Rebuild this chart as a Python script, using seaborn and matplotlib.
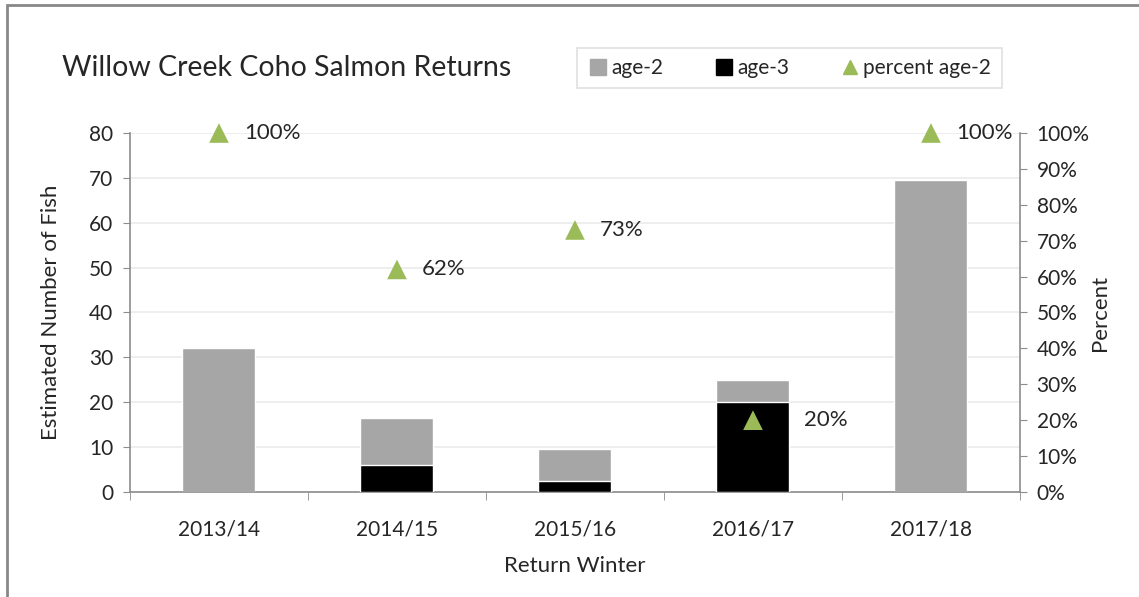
import numpy as np
import pandas as pd
import matplotlib
matplotlib.use('Agg')
import matplotlib.pyplot as plt
import seaborn as sns
from matplotlib.patches import Rectangle
from matplotlib.lines import Line2D
from matplotlib.ticker import FixedLocator, PercentFormatter

# Data
winters = ['2013/14', '2014/15', '2015/16', '2016/17', '2017/18']
age2 = [32, 10.5, 7, 5, 69.5]
age3 = [0, 6, 2.5, 20, 0]
pct_age2 = [100, 62, 73, 20, 100]

gray = '#A6A6A6'
green = '#9BBB59'
axis_gray = '#8C8C8C'

df = pd.DataFrame({'winter': winters, 'age2': age2, 'age3': age3, 'pct': pct_age2})
df['total'] = df['age2'] + df['age3']

sns.set_style('white')
plt.rcParams['font.family'] = ['Lato', 'DejaVu Sans']

fig = plt.figure(figsize=(11.39, 5.97), dpi=100)
ax = fig.add_axes([0.1141, 0.1759, 0.7814, 0.6013])

# Stacked bars: total in gray, age-3 in black drawn over it from zero
sns.barplot(data=df, x='winter', y='total', color=gray, width=0.41,
            saturation=1, ax=ax, zorder=2)
sns.barplot(data=df, x='winter', y='age3', color='black', width=0.41,
            saturation=1, ax=ax, zorder=3)

ax.set_xlim(-0.5, 4.5)
ax.set_ylim(0, 80)
ax.set_yticks(range(0, 81, 10))
ax.yaxis.grid(True, color='#EBEBEB', linewidth=1.2, zorder=0)
ax.set_axisbelow(True)
for s in ['top', 'right']:
    ax.spines[s].set_visible(False)
for s in ['left', 'bottom']:
    ax.spines[s].set_color(axis_gray)
    ax.spines[s].set_linewidth(1.2)

ax.tick_params(axis='y', direction='out', length=5, color=axis_gray, labelsize=15, pad=7, left=True)
ax.tick_params(axis='x', which='major', length=0, labelsize=15, pad=20)
ax.xaxis.set_minor_locator(FixedLocator(np.arange(-0.5, 5, 1)))
ax.tick_params(axis='x', which='minor', direction='out', length=6, color=axis_gray, bottom=True)

ax.set_xlabel('Return Winter', fontsize=16, labelpad=12)
ax.set_ylabel('Estimated Number of Fish', fontsize=16, labelpad=20)

# Secondary axis for percent age-2
ax2 = ax.twinx()
sns.scatterplot(data=df, x='winter', y='pct', marker='^', s=200, color=green,
                edgecolor='none', ax=ax2, zorder=5, clip_on=False)
ax2.set_ylim(0, 100)
ax2.set_xlim(-0.5, 4.5)
ax2.set_yticks(range(0, 101, 10))
ax2.yaxis.set_major_formatter(PercentFormatter(decimals=0))
for s in ['top', 'left', 'bottom']:
    ax2.spines[s].set_visible(False)
ax2.spines['right'].set_color(axis_gray)
ax2.spines['right'].set_linewidth(1.2)
ax2.tick_params(axis='y', direction='out', length=5, color=axis_gray, labelsize=15, pad=7, right=True)
ax2.set_ylabel('Percent', fontsize=16, labelpad=0)

# label offsets in points; the 2016/17 label sits further out, clear of the bar
offsets = [18, 18, 18, 37, 18]
for i, p in enumerate(pct_age2):
    ax2.annotate(f'{p}%', (i, p), xytext=(offsets[i], 0), textcoords='offset points',
                 va='center', ha='left', fontsize=16, annotation_clip=False)

fig.text(0.054, 0.886, 'Willow Creek Coho Salmon Returns', fontsize=20.5, va='center', ha='left')

handles = [
    Line2D([], [], marker='s', linestyle='none', markersize=11, color=gray),
    Line2D([], [], marker='s', linestyle='none', markersize=11, color='black'),
    Line2D([], [], marker='^', linestyle='none', markersize=10, color=green),
]
leg = fig.legend(handles, ['age-2', 'age-3', 'percent age-2'], loc='center',
                 bbox_to_anchor=(0.693, 0.886), ncol=3, fontsize=15, frameon=True,
                 fancybox=False, edgecolor='#D9D9D9', handletextpad=0.15,
                 columnspacing=2.4, borderpad=0.5, handlelength=1.0,
                 borderaxespad=0)
leg.get_frame().set_linewidth(1.2)

# Outer chart border (cut off at right and bottom as in the reference)
fig.patches.append(Rectangle((7 / 1139, -0.1), 1.2, 1.1 - 5.5 / 597,
                             transform=fig.transFigure, fill=False,
                             edgecolor='#888888', linewidth=2))

fig.savefig('out.png', dpi=100)
